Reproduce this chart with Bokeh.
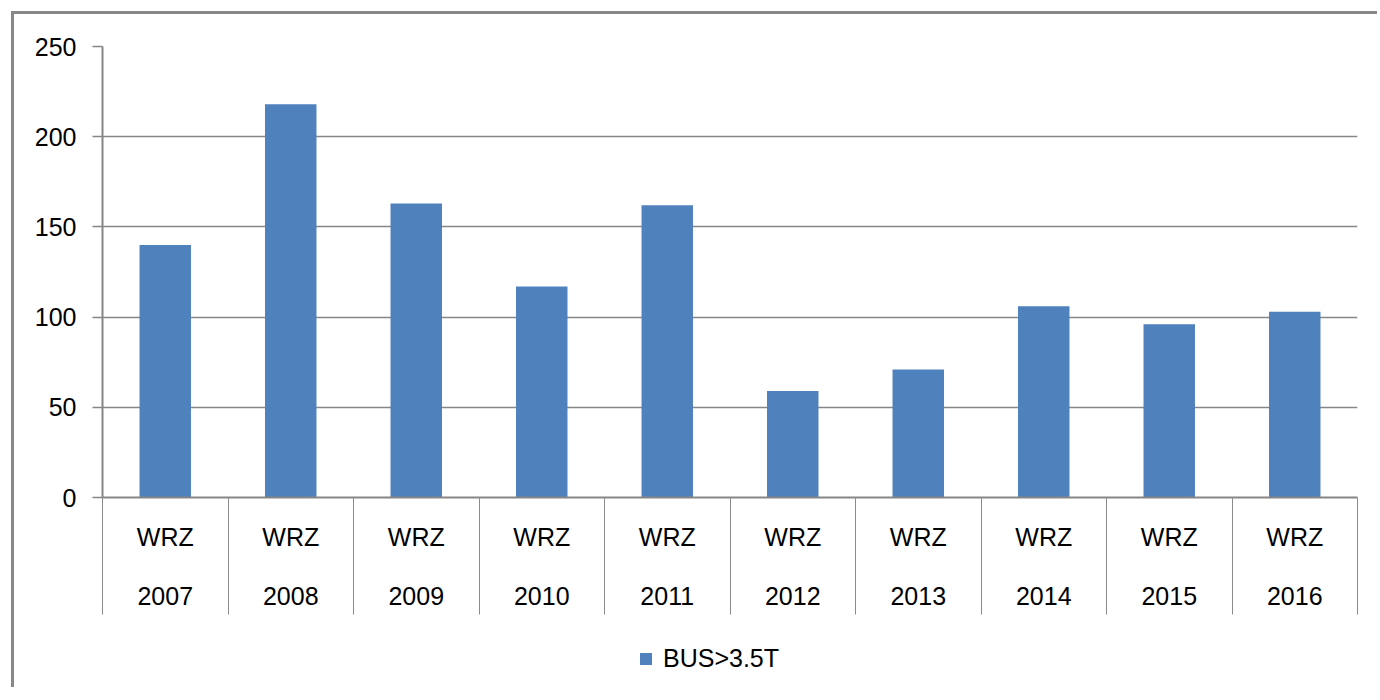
from bokeh.plotting import figure
from bokeh.layouts import column
from bokeh.models import (Range1d, LinearAxis, FixedTicker, Legend, LegendItem,
                          ColumnDataSource)
from bokeh.embed import file_html
from bokeh.resources import INLINE

# ---- data ----
group_label = "WRZ"
years = ["2007", "2008", "2009", "2010", "2011", "2012", "2013", "2014", "2015", "2016"]
values = [140, 218, 163, 117, 162, 59, 71, 106, 96, 103]
series_name = "BUS>3.5T"
y_ticks = [0, 50, 100, 150, 200, 250]

FONT = "Liberation Sans"
FS = "25px"
GRAY = "#868686"
BAR = "#4f81bd"
BORDER = "3px solid #888888"

n = len(years)
centers = [i + 0.5 for i in range(n)]
bounds = [float(i) for i in range(n + 1)]

src = ColumnDataSource(dict(x=centers, top=values, year=years))

# ---- main chart ----
p = figure(width=1366, height=606, x_range=Range1d(0, n), y_range=Range1d(0, max(y_ticks)),
           output_backend="svg", toolbar_location=None, x_axis_type=None,
           min_border_left=88, min_border_right=23, min_border_top=32, min_border_bottom=123)
p.outline_line_color = None
p.background_fill_color = "white"
p.border_fill_color = "white"
p.styles = {"border-left": BORDER, "border-top": BORDER}
p.margin = (11, 0, 0, 11)

bars = p.vbar(x="x", top="top", width=0.41, source=src, fill_color=BAR, line_color=None)

# y axis
ya = p.yaxis[0]
ya.ticker = FixedTicker(ticks=y_ticks, minor_ticks=[])
ya.major_tick_out = 10
ya.major_tick_in = 0
ya.minor_tick_out = 0
ya.minor_tick_in = 0
ya.axis_line_color = GRAY
ya.axis_line_width = 2
ya.major_tick_line_color = GRAY
ya.major_tick_line_width = 1.5
ya.major_label_standoff = 16
ya.major_label_text_font = FONT
ya.major_label_text_font_size = FS
ya.major_label_text_color = "black"

p.ygrid.grid_line_color = GRAY
p.ygrid.grid_line_width = 1.5
p.xgrid.visible = False

# category axis: group label row with dividers (minor ticks at category boundaries)
axA = LinearAxis(ticker=FixedTicker(ticks=centers, minor_ticks=bounds),
                 major_label_overrides={c: group_label for c in centers})
axA.major_tick_out = 0
axA.major_tick_in = 0
axA.minor_tick_out = 117
axA.minor_tick_in = 0
axA.minor_tick_line_color = "#8a8a8a"
axA.minor_tick_line_width = 1
axA.axis_line_color = GRAY
axA.axis_line_width = 2
axA.major_label_standoff = 25 - 117
axA.major_label_text_font = FONT
axA.major_label_text_font_size = FS
axA.major_label_text_color = "black"
p.add_layout(axA, "below")

# category axis: year row
axB = LinearAxis(ticker=FixedTicker(ticks=centers, minor_ticks=[]),
                 major_label_overrides={c: y for c, y in zip(centers, years)})
axB.major_tick_out = 0
axB.major_tick_in = 0
axB.minor_tick_out = 0
axB.minor_tick_in = 0
axB.axis_line_color = None
axB.major_label_standoff = 33
axB.major_label_text_font = FONT
axB.major_label_text_font_size = FS
axB.major_label_text_color = "black"
p.add_layout(axB, "below")

# ---- legend strip (same series, its bars lie outside this strip's range) ----
p2 = figure(width=1366, height=70, x_range=Range1d(0, n), y_range=Range1d(1000, 1001),
            output_backend="svg", toolbar_location=None, x_axis_type=None, y_axis_type=None,
            min_border=0)
p2.outline_line_color = None
p2.xgrid.visible = False
p2.ygrid.visible = False
p2.background_fill_color = "white"
p2.border_fill_color = "white"
p2.styles = {"border-left": BORDER}
p2.margin = (0, 0, 0, 11)
bars2 = p2.vbar(x="x", top="top", width=0.41, source=src, fill_color=BAR, line_color=None)

legend = Legend(items=[LegendItem(label=series_name, renderers=[bars2])],
                location=(536, 14), orientation="horizontal")
legend.glyph_width = 15
legend.glyph_height = 15
legend.label_standoff = 10
legend.padding = 0
legend.margin = 0
legend.border_line_color = None
legend.background_fill_alpha = 0
legend.label_text_font = FONT
legend.label_text_font_size = FS
legend.label_text_color = "black"
p2.add_layout(legend, "center")

layout = column(p, p2, spacing=0)
open("out.html", "w").write(file_html(layout, INLINE))
